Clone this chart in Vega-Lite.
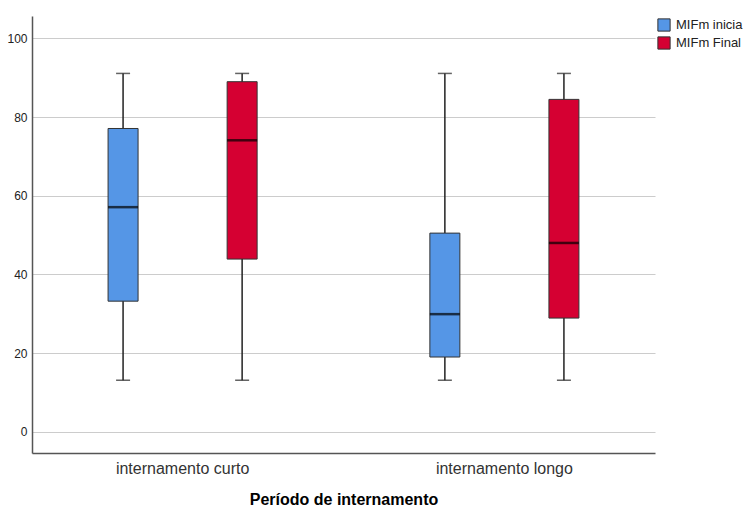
{
  "$schema": "https://vega.github.io/schema/vega-lite/v6.json",
  "width": 623,
  "height": 437,
  "autosize": {"type": "none"},
  "padding": {"left": 32, "top": 16, "right": 88, "bottom": 55},
  "background": "white",
  "config": {
    "font": "Liberation Sans",
    "view": {"stroke": null},
    "axis": {"domainColor": "#555555", "domainWidth": 1.5, "labelColor": "#222222", "labelFont": "Liberation Sans"}
  },
  "data": {
    "values": [
      {"periodo": "internamento curto", "serie": "MIFm inicia", "min": 13.1, "q1": 33.2, "med": 57.1, "q3": 77.1, "max": 91.1},
      {"periodo": "internamento curto", "serie": "MIFm Final", "min": 13.1, "q1": 43.9, "med": 74.1, "q3": 89.0, "max": 91.1},
      {"periodo": "internamento longo", "serie": "MIFm inicia", "min": 13.1, "q1": 19.0, "med": 29.9, "q3": 50.5, "max": 91.1},
      {"periodo": "internamento longo", "serie": "MIFm Final", "min": 13.1, "q1": 28.9, "med": 48.0, "q3": 84.5, "max": 91.1}
    ]
  },
  "encoding": {
    "x": {
      "field": "periodo", "type": "nominal", "sort": null,
      "scale": {"paddingInner": 0.064, "paddingOuter": 0},
      "axis": {"title": "Período de internamento", "titleFontSize": 16, "titleFontWeight": "bold", "titleColor": "#000000", "titlePadding": 15, "labelFontSize": 16, "labelAngle": 0, "labelPadding": 7, "ticks": false, "labelColor": "#333333"}
    },
    "xOffset": {
      "field": "serie", "type": "nominal", "sort": ["MIFm inicia", "MIFm Final"],
      "scale": {"paddingInner": 0, "paddingOuter": 0.265}
    }
  },
  "layer": [
    {
      "mark": {"type": "rule", "color": "#222222", "strokeWidth": 1.5},
      "encoding": {
        "y": {"field": "min", "type": "quantitative", "scale": {"domain": [-5.4, 105.7], "nice": false, "zero": false},
          "axis": {"title": null, "values": [0, 20, 40, 60, 80, 100], "ticks": false, "grid": true, "gridColor": "#cccccc", "gridWidth": 1.2, "labelFontSize": 12, "labelPadding": 5}},
        "y2": {"field": "max"}
      }
    },
    {
      "mark": {"type": "bar", "size": 30, "stroke": "#333333", "strokeWidth": 1},
      "encoding": {
        "y": {"field": "q1", "type": "quantitative"},
        "y2": {"field": "q3"},
        "color": {
          "field": "serie", "type": "nominal",
          "scale": {"domain": ["MIFm inicia", "MIFm Final"], "range": ["#5596E6", "#D50032"]},
          "legend": {"title": null, "orient": "none", "legendX": 625, "legendY": 2, "symbolType": "square", "symbolSize": 150, "symbolStrokeColor": "#333333", "symbolStrokeWidth": 1, "labelFontSize": 13, "labelColor": "#222222", "rowPadding": 0, "labelOffset": 5}
        }
      }
    },
    {
      "mark": {"type": "tick", "color": "#000000", "size": 30, "thickness": 2.5},
      "encoding": {"y": {"field": "med", "type": "quantitative"}}
    },
    {
      "mark": {"type": "tick", "color": "#222222", "size": 14, "thickness": 1.5},
      "encoding": {"y": {"field": "min", "type": "quantitative"}}
    },
    {
      "mark": {"type": "tick", "color": "#222222", "size": 14, "thickness": 1.5},
      "encoding": {"y": {"field": "max", "type": "quantitative"}}
    }
  ]
}
